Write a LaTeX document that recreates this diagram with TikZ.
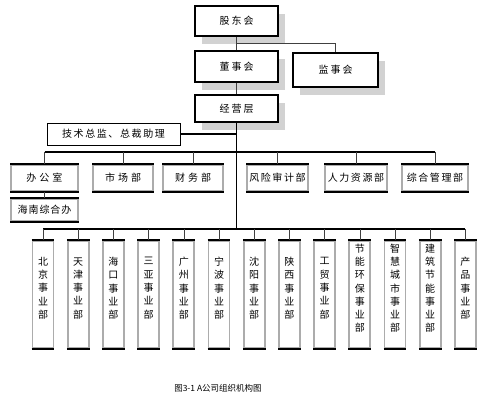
\documentclass[tikz,border=0pt]{standalone}
\usepackage{fontspec}
\setmainfont{Noto Sans CJK SC}
\newfontfamily\spA[LetterSpace=20]{Noto Sans CJK SC}
\newfontfamily\spB[LetterSpace=30]{Noto Sans CJK SC}
\newfontfamily\spC[LetterSpace=16]{Noto Sans CJK SC}
\newfontfamily\spD[LetterSpace=10]{Noto Sans CJK SC}
\usetikzlibrary{shadows,positioning}

\begin{document}
\begin{tikzpicture}[
    x=1pt, y=-1pt,
    board/.style={rectangle, draw, line width=1.2pt, fill=white, minimum width=83pt, minimum height=30pt,
      drop shadow={shadow xshift=7pt, shadow yshift=-8pt, fill=gray!35, opacity=1},
      font=\fontsize{10}{12}\selectfont\spA},
    dept/.style={rectangle, draw=gray!65, line width=1.8pt, fill=white, inner sep=2pt,
      append after command={(\tikzlastnode.north west) edge[draw=black, line width=1.2pt] (\tikzlastnode.north east)
        (\tikzlastnode.south west) edge[draw=black, line width=2pt] (\tikzlastnode.south east)}},
    unit/.style={dept, minimum width=21pt, minimum height=107pt, align=center,
      font=\fontsize{10}{13.3}\selectfont},
    link/.style={draw=gray!50!black, line width=0.6pt},
    trunk/.style={draw=black, line width=1.3pt}
]
\useasboundingbox (0,0) rectangle (480,403);

% Nodes
\node[board] (gdh) at (236.5,21) {股东会};
\node[board, minimum height=31pt] (dsh) at (236.5,66.5) {董事会};
\node[board, minimum width=85pt, minimum height=34pt] (jsh) at (335.5,70) {监事会};
\node[board, minimum height=27pt] (jyc) at (236.5,108.5) {经营层};
\node[draw, line width=0.8pt, minimum width=133pt, minimum height=22pt,
  font=\fontsize{10}{12}\selectfont\spC] (zj) at (113.5,134) {技术总监、总裁助理};

\node[dept, minimum width=67pt, minimum height=26pt, font=\fontsize{10}{12}\selectfont\spB] (bgs) at (44.5,178) {办公室};
\node[dept, minimum width=60pt, minimum height=26pt, font=\fontsize{10}{12}\selectfont\spB] (scb) at (123,178) {市场部};
\node[dept, minimum width=60pt, minimum height=26pt, font=\fontsize{10}{12}\selectfont\spB] (cwb) at (193,178) {财务部};
\node[dept, minimum width=61pt, minimum height=26pt, font=\fontsize{10}{12}\selectfont\spC] (fxb) at (277.5,178) {风险审计部};
\node[dept, minimum width=62pt, minimum height=26pt, font=\fontsize{10}{12}\selectfont\spC] (rlb) at (356,178) {人力资源部};
\node[dept, minimum width=66pt, minimum height=26pt, font=\fontsize{10}{12}\selectfont\spC] (zhb) at (435,178) {综合管理部};
\node[dept, minimum width=67pt, minimum height=22pt, font=\fontsize{10}{12}\selectfont\spD] (hnb) at (44.5,210) {海南综合办};

\foreach \t [count=\i] in {{北\\京\\事\\业\\部}, {天\\津\\事\\业\\部}, {海\\口\\事\\业\\部},
    {三\\亚\\事\\业\\部}, {广\\州\\事\\业\\部}, {宁\\波\\事\\业\\部}, {沈\\阳\\事\\业\\部},
    {陕\\西\\事\\业\\部}, {工\\贸\\事\\业\\部}, {节\\能\\环\\保\\事\\业\\部},
    {智\\慧\\城\\市\\事\\业\\部}, {建\\筑\\节\\能\\事\\业\\部}, {产\\品\\事\\业\\部}}
  \node[unit] (u\i) at ({43+35.2*(\i-1)},294.5) {\t\\\mbox{}};

\node[font=\fontsize{8.5}{10}\selectfont] (caption) at (218,388) {图3-1 A公司组织机构图};

% Lines
\coordinate (bus1) at (236.5,152);
\coordinate (bus2) at (236.5,229);
\coordinate (tap) at (236.5,43);
\draw[link] (gdh) -- (dsh);
\draw[link] (tap) -| (jsh.north);
\draw[link] (dsh) -- (jyc);
\draw[trunk] (jyc.south) -- (bus2);
\draw[trunk] (zj.east) -- (zj.east -| jyc);
\draw[trunk] (bgs.north |- bus1) -- (zhb.north |- bus1);
\foreach \d in {bgs,scb,cwb,fxb,rlb,zhb}
  \draw[link] (\d.north |- bus1) -- (\d.north);
\draw[link] (bgs) -- (hnb);
\draw[trunk] (u1.north |- bus2) -- (u13.north |- bus2);
\foreach \i in {1,...,13}
  \draw[link] (u\i.north |- bus2) -- (u\i.north);
\end{tikzpicture}
\end{document}
